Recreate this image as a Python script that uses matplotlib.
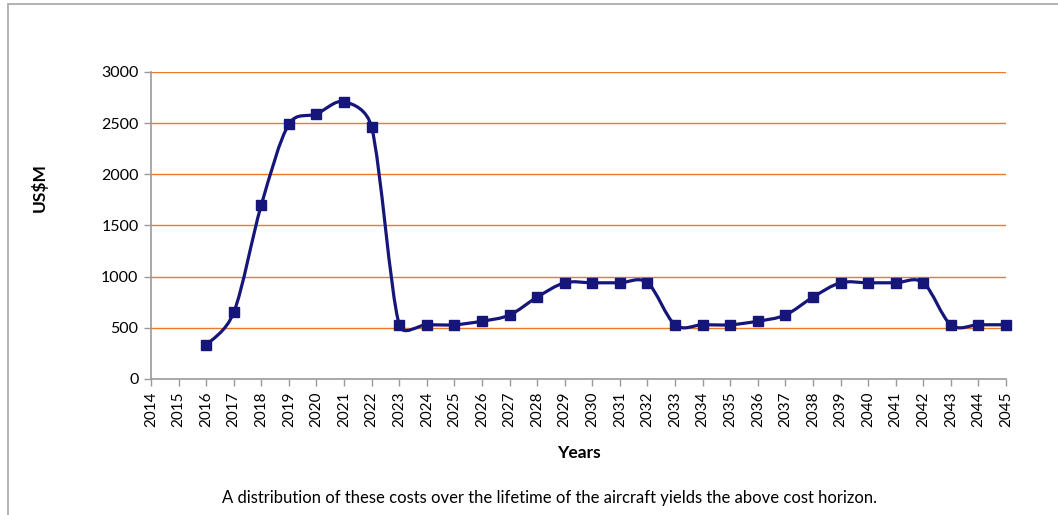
import numpy as np
import matplotlib.pyplot as plt
from matplotlib.path import Path
from matplotlib.patches import PathPatch, Rectangle

## ------------------- data
years = list(range(2016, 2046))
costs = [330, 650, 1700, 2490, 2590, 2710, 2460,
         530, 530, 530, 565, 625, 800, 940, 940, 940, 940,
         530, 530, 530, 565, 625, 800, 940, 940, 940, 940,
         530, 530, 530]
year_ticks = list(range(2014, 2046))
y_ticks = [0, 500, 1000, 1500, 2000, 2500, 3000]

line_col = '#16167A'
grid_col = '#EC7A28'
axis_col = '#9A9A9A'

plt.rcParams['font.family'] = ['Lato', 'DejaVu Sans']


## ------------------- Excel style smoothed line
## cubic bezier with catmull-rom tangents, control arm clamped to half the segment (screen space)
def smooth_path(x, y, sx, sy):
    pts = np.column_stack([np.asarray(x) * sx, np.asarray(y) * sy]).astype(float)
    n = len(pts)
    verts = [pts[0]]
    codes = [Path.MOVETO]
    for i in range(n - 1):
        p0 = pts[i - 1] if i > 0 else pts[i]
        p1 = pts[i]
        p2 = pts[i + 1]
        p3 = pts[i + 2] if i + 2 < n else pts[i + 1]
        seg = np.linalg.norm(p2 - p1)
        a1 = (p2 - p0) / 6.0
        a2 = (p3 - p1) / 6.0
        for a in (a1, a2):
            la = np.linalg.norm(a)
            if la > seg / 2:
                a *= (seg / 2) / la
        verts += [p1 + a1, p2 - a2, p2]
        codes += [Path.CURVE4] * 3
    verts = np.array(verts)
    verts[:, 0] /= sx
    verts[:, 1] /= sy
    return Path(verts, codes)


fig = plt.figure(figsize=(10.58, 5.15), dpi=100)
ax = fig.add_axes([0.1427, 0.2641, 0.8082, 0.5961])

# frame round the chart
fig.patches.append(Rectangle((8 / 1058, -0.05), 1.1, 1 - 4 / 515 + 0.05,
                             transform=fig.transFigure, fill=False,
                             edgecolor='#A6A6A6', linewidth=1.2))

for v in y_ticks[1:]:
    ax.axhline(v, color=grid_col, linewidth=1.0, zorder=1)

ax.set_xlim(2014, 2045)
ax.set_ylim(0, 3000)

px_x = 0.8082 * 1058 / 31.0
px_y = 0.5961 * 515 / 3000.0
ax.add_patch(PathPatch(smooth_path(years, costs, px_x, px_y), facecolor='none',
                       edgecolor=line_col, linewidth=2.3, zorder=3))
ax.plot(years, costs, linestyle='none', marker='s', markersize=7.5,
        color=line_col, zorder=4, clip_on=False)

ax.set_xticks(year_ticks)
ax.set_xticklabels([str(y) for y in year_ticks], rotation=90, fontsize=11)
ax.set_yticks(y_ticks)
ax.set_yticklabels([str(v) for v in y_ticks], fontsize=11.5)

for s in ['top', 'right']:
    ax.spines[s].set_visible(False)
for s in ['left', 'bottom']:
    ax.spines[s].set_color(axis_col)
    ax.spines[s].set_linewidth(1.2)
ax.tick_params(axis='both', color=axis_col, length=5, width=1, pad=4)

ax.set_ylabel('US$M', fontsize=12.5, fontweight='bold')
ax.yaxis.set_label_coords(-0.121, 0.622)
ax.set_xlabel('Years', fontsize=12.5, fontweight='bold', labelpad=13)

fig.text(550 / 1058, 1 - 498 / 515,
         'A distribution of these costs over the lifetime of the aircraft yields the above cost horizon.',
         ha='center', va='center', fontsize=12)

plt.savefig('out.png', dpi=100)
